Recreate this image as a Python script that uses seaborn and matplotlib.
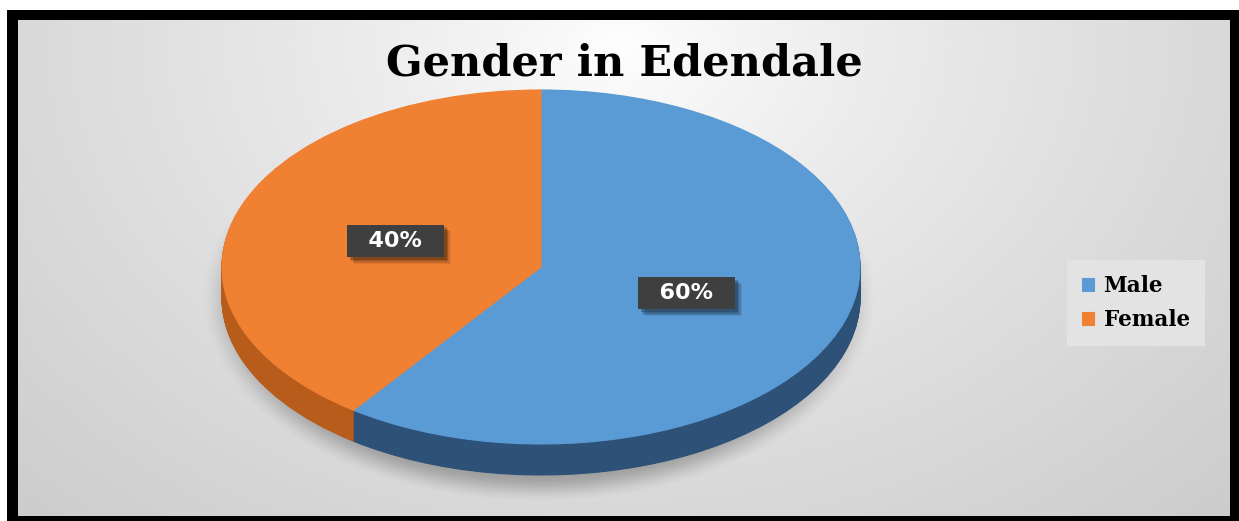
import numpy as np
import matplotlib
matplotlib.use("Agg")
import matplotlib.pyplot as plt
import matplotlib.patheffects as pe
import seaborn as sns

# Data
categories = ["Male", "Female"]
shares = [60, 40]
top_colors = ["#5b9bd5", "#f08133"]
side_colors = ["#2e5177", "#b75c1b"]
title_text = "Gender in Edendale"

sns.set_theme(style="white")
plt.rcParams["font.family"] = ["DejaVu Sans"]

W, H = 1239, 521
fig = plt.figure(figsize=(W / 100, H / 100), dpi=100)
fig.patch.set_facecolor("white")

# Background layer in pixel coordinates: black frame, grey radial gradient, soft shadow
bg = fig.add_axes([0, 0, 1, 1])
bg.set_xlim(0, W)
bg.set_ylim(H, 0)
bg.axis("off")
bg.add_patch(plt.Rectangle((7, 10), W - 7, H - 10, color="black", lw=0, zorder=0))

x0, x1, y0, y1 = 18, 1230, 20, 516
xx, yy = np.meshgrid(np.linspace(x0, x1, 700), np.linspace(y0, y1, 300))
d = np.sqrt(((xx - 620) / 720) ** 2 + ((yy - 45) / 540) ** 2)
g = 1.0 - 0.17 * np.clip(d, 0, 1.3) ** 0.8
bg.imshow(np.dstack([g, g, g]), extent=(x0, x1, y1, y0), aspect="auto",
          interpolation="bilinear", zorder=1)

sx0, sx1, sy0, sy1 = 150, 950, 60, 516
sx, sy = np.meshgrid(np.linspace(sx0, sx1, 500), np.linspace(sy0, sy1, 300))
sd = np.sqrt(((sx - 539) / 340) ** 2 + ((sy - 298) / 206) ** 2)
t = np.clip((1.0 - sd) / 0.14, 0, 1)
alpha = 0.27 * t * t * (3 - 2 * t)
shadow = np.zeros(sd.shape + (4,))
shadow[..., 3] = alpha
bg.imshow(shadow, extent=(sx0, sx1, sy1, sy0), aspect="auto",
          interpolation="bilinear", zorder=2)

bg.text(624, 64, title_text, ha="center", va="center", fontsize=31,
        fontweight="bold", family="DejaVu Serif", color="black", zorder=3)

# Pie axes: an elliptical (tilted) pie with a thick side wall
cx, cy, rx, ry = 541, 267, 319, 177
depth = 0.175
pad = 1.1
left_px, right_px = cx - pad * rx, cx + pad * rx
top_px, bot_px = cy - pad * ry, cy + (pad + depth) * ry
ax = fig.add_axes([left_px / W, 1 - bot_px / H,
                   (right_px - left_px) / W, (bot_px - top_px) / H])
ax.patch.set_alpha(0)

for off in np.linspace(depth, 0.004, 45):
    side, _ = ax.pie(shares, colors=side_colors, startangle=90, counterclock=False,
                     center=(0, -off), wedgeprops=dict(linewidth=0))
    for w in side:
        w.set_edgecolor(w.get_facecolor())
        w.set_linewidth(0.8)

wedges, texts, autotexts = ax.pie(
    shares, colors=top_colors, startangle=90, counterclock=False,
    autopct=lambda p: f"  {p:.0f}%  ", pctdistance=0.48,
    wedgeprops=dict(linewidth=0),
    textprops=dict(color="white", fontsize=16, fontweight="bold", family="DejaVu Sans"),
)
for w in wedges:
    w.set_edgecolor(w.get_facecolor())
    w.set_linewidth(0.8)

# Dark value boxes with a soft drop shadow
soft_shadow = [pe.SimplePatchShadow(offset=(o, -o), shadow_rgbFace="black", alpha=a)
               for o, a in [(5, 0.08), (4, 0.12), (3, 0.16), (2, 0.2)]]
for at in autotexts:
    at.set_bbox(dict(boxstyle="square,pad=0.28", fc="#3f3f3f", ec="none"))
    at.get_bbox_patch().set_path_effects(soft_shadow + [pe.Normal()])

ax.set_aspect("auto")
ax.set_xlim(-pad, pad)
ax.set_ylim(-pad - depth, pad)
ax.axis("off")

leg = fig.legend(
    wedges, categories, loc="center left", bbox_to_anchor=(1067 / W, 1 - 303 / H),
    borderaxespad=0, frameon=True, fancybox=False, facecolor="#e3e3e3",
    edgecolor="none", framealpha=1,
    prop=dict(family="DejaVu Serif", weight="bold", size=15.5),
    handlelength=0.55, handleheight=0.55, handletextpad=0.45,
    labelspacing=0.55, borderpad=0.7, labelcolor="black",
)

fig.savefig("out.png", dpi=100)
